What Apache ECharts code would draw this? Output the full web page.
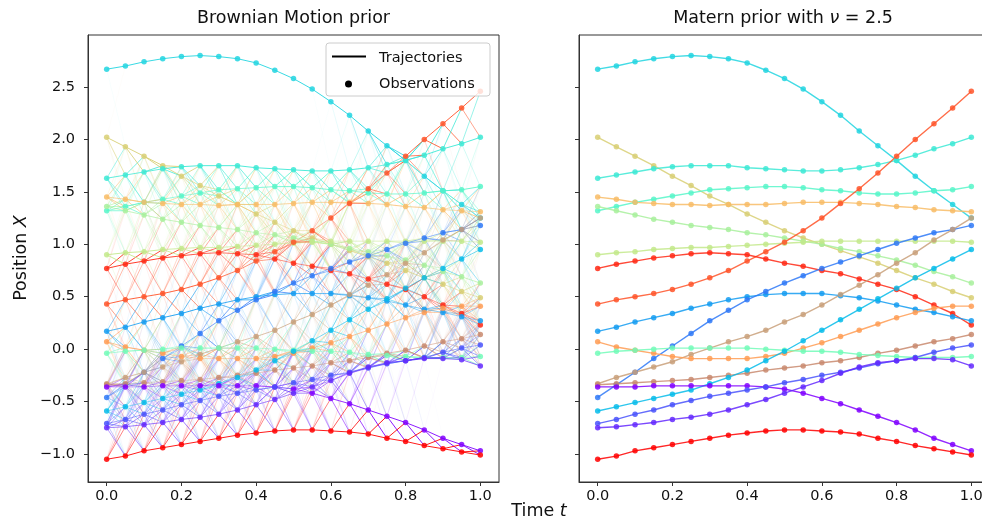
<!DOCTYPE html>
<html>
<head>
<meta charset="utf-8">
<script src="https://cdn.jsdelivr.net/npm/echarts@6/dist/echarts.min.js"></script>
<style>
  html, body { margin: 0; padding: 0; background: #fff; }
  #chart { width: 982px; height: 522px; }
</style>
</head>
<body>
<div id="chart"></div>
<script>
// Observation times
const times = [0.00, 0.05, 0.10, 0.15, 0.20, 0.25, 0.30, 0.35, 0.40, 0.45, 0.50,
               0.55, 0.60, 0.65, 0.70, 0.75, 0.80, 0.85, 0.90, 0.95, 1.00];

// Observed positions of each particle at the times above
const trajA = [2.67, 2.70, 2.74, 2.77, 2.79, 2.80, 2.79, 2.77, 2.73, 2.66, 2.58, 2.48, 2.36, 2.23, 2.08, 1.94, 1.80, 1.65, 1.51, 1.38, 1.25];
const trajB = [2.02, 1.93, 1.84, 1.75, 1.65, 1.56, 1.46, 1.38, 1.29, 1.21, 1.13, 1.06, 1.00, 0.94, 0.88, 0.82, 0.75, 0.68, 0.62, 0.55, 0.49];
const trajC = [1.63, 1.66, 1.69, 1.72, 1.74, 1.75, 1.75, 1.75, 1.73, 1.72, 1.71, 1.70, 1.70, 1.71, 1.73, 1.76, 1.80, 1.85, 1.91, 1.96, 2.02];
const trajD = [1.32, 1.36, 1.40, 1.43, 1.46, 1.49, 1.52, 1.53, 1.54, 1.55, 1.55, 1.54, 1.52, 1.51, 1.49, 1.48, 1.48, 1.49, 1.51, 1.52, 1.55];
const trajE = [1.45, 1.43, 1.40, 1.39, 1.38, 1.38, 1.37, 1.38, 1.38, 1.38, 1.39, 1.40, 1.40, 1.40, 1.39, 1.38, 1.36, 1.35, 1.33, 1.32, 1.31];
const trajF = [1.36, 1.32, 1.28, 1.24, 1.21, 1.18, 1.16, 1.14, 1.11, 1.09, 1.06, 1.03, 1.00, 0.96, 0.93, 0.89, 0.85, 0.80, 0.74, 0.69, 0.63];
const trajG = [0.90, 0.92, 0.93, 0.95, 0.96, 0.97, 0.97, 0.98, 0.99, 1.00, 1.01, 1.02, 1.03, 1.03, 1.03, 1.03, 1.03, 1.03, 1.03, 1.03, 1.02];
const trajH = [0.43, 0.47, 0.50, 0.53, 0.57, 0.62, 0.68, 0.75, 0.84, 0.93, 1.02, 1.13, 1.25, 1.39, 1.53, 1.68, 1.84, 2.00, 2.15, 2.30, 2.46];
const trajI = [0.77, 0.81, 0.84, 0.87, 0.89, 0.91, 0.92, 0.91, 0.90, 0.86, 0.82, 0.79, 0.75, 0.72, 0.67, 0.62, 0.57, 0.50, 0.42, 0.34, 0.23];
const trajJ = [0.17, 0.21, 0.26, 0.30, 0.34, 0.39, 0.43, 0.47, 0.50, 0.52, 0.53, 0.53, 0.53, 0.51, 0.49, 0.46, 0.42, 0.38, 0.35, 0.31, 0.27];
const trajK = [-0.46, -0.34, -0.22, -0.09, 0.03, 0.15, 0.27, 0.37, 0.47, 0.55, 0.63, 0.70, 0.77, 0.83, 0.89, 0.95, 1.01, 1.06, 1.11, 1.14, 1.18];
const trajL = [-0.33, -0.27, -0.22, -0.17, -0.12, -0.05, 0.01, 0.07, 0.12, 0.18, 0.26, 0.33, 0.42, 0.52, 0.61, 0.71, 0.82, 0.92, 1.04, 1.14, 1.25];
const trajM = [0.07, 0.02, -0.01, -0.04, -0.07, -0.09, -0.09, -0.09, -0.09, -0.07, -0.04, 0.01, 0.06, 0.12, 0.18, 0.24, 0.30, 0.35, 0.39, 0.41, 0.41];
const trajN = [-0.34, -0.33, -0.32, -0.31, -0.30, -0.29, -0.27, -0.25, -0.23, -0.20, -0.18, -0.16, -0.13, -0.11, -0.08, -0.04, -0.01, 0.03, 0.07, 0.10, 0.14];
const trajO = [-0.04, -0.02, -0.01, 0.00, 0.01, 0.01, 0.01, 0.01, 0.01, 0.00, -0.01, -0.02, -0.02, -0.03, -0.05, -0.06, -0.07, -0.08, -0.08, -0.08, -0.07];
const trajP = [-0.59, -0.55, -0.51, -0.47, -0.43, -0.39, -0.33, -0.27, -0.20, -0.11, -0.02, 0.08, 0.18, 0.28, 0.38, 0.48, 0.58, 0.68, 0.77, 0.86, 0.95];
const trajQ = [-0.36, -0.36, -0.36, -0.35, -0.35, -0.35, -0.35, -0.35, -0.35, -0.36, -0.38, -0.42, -0.47, -0.52, -0.58, -0.64, -0.70, -0.77, -0.85, -0.91, -0.97];
const trajR = [-0.71, -0.67, -0.62, -0.58, -0.53, -0.49, -0.45, -0.42, -0.39, -0.36, -0.32, -0.29, -0.25, -0.22, -0.18, -0.14, -0.11, -0.08, -0.03, 0.01, 0.04];
const trajS = [-0.75, -0.74, -0.72, -0.70, -0.67, -0.65, -0.62, -0.58, -0.53, -0.48, -0.42, -0.36, -0.30, -0.23, -0.17, -0.13, -0.11, -0.09, -0.09, -0.10, -0.16];
const trajT = [-1.05, -1.02, -0.97, -0.94, -0.91, -0.88, -0.85, -0.82, -0.80, -0.78, -0.77, -0.77, -0.78, -0.79, -0.81, -0.85, -0.88, -0.92, -0.95, -0.98, -1.01];

const trajectories = [trajA, trajB, trajC, trajD, trajE, trajF, trajG, trajH, trajI, trajJ,
                      trajK, trajL, trajM, trajN, trajO, trajP, trajQ, trajR, trajS, trajT];

// One rainbow colour per particle
const trajColors = ['#22d5e0', '#d8cf74', '#3ce9d5', '#57f6c9', '#f8bc66', '#a8f09c', '#c3e98b', '#ff5329', '#ff2915', '#149cf1',
                    '#2f79f7', '#c9a07a', '#ff9c53', '#c98a6e', '#72fbb8', '#07bcea', '#8000ff', '#4a53fb', '#6429fe', '#ff0000'];

// Tick labels
const xTicks = [0.0, 0.2, 0.4, 0.6, 0.8, 1.0];
const yTicks = [-1.0, -0.5, 0.0, 0.5, 1.0, 1.5, 2.0, 2.5];

// Entropic transport plan between the particles of two consecutive times (Brownian prior)
function transportPlan(a, b, eps) {
  const n = a.length;
  const K = a.map(x => b.map(y => Math.exp(-((x - y) * (x - y)) / eps)));
  let u = new Array(n).fill(1);
  let v = new Array(n).fill(1);
  for (let it = 0; it < 400; it++) {
    u = K.map(row => 1 / row.reduce((s, k, j) => s + k * v[j], 0));
    v = b.map((_, j) => 1 / K.reduce((s, row, i) => s + row[j] * u[i], 0));
  }
  return K.map((row, i) => row.map((k, j) => u[i] * k * v[j]));
}

const EPS = 0.12;
const links = [];
for (let k = 0; k + 1 < times.length; k++) {
  const a = trajectories.map(tr => tr[k]);
  const b = trajectories.map(tr => tr[k + 1]);
  const plan = transportPlan(a, b, EPS);
  plan.forEach((row, i) => row.forEach((w, j) => {
    if (w > 0.004) links.push([times[k], a[i], times[k + 1], b[j], w, i]);
  }));
}
// weakest links first so the strong ones sit on top
links.sort((p, q) => p[4] - q[4]);

const FONT = 'DejaVu Sans';
const TXT = '#111';

function fmt(v) {
  return (v < 0 ? '\u2212' : '') + Math.abs(v).toFixed(1);
}

function makeXAxis(gridIndex) {
  return {
    type: 'value', gridIndex, min: -0.05, max: 1.05,
    axisLine: { show: true, onZero: false, lineStyle: { color: '#333', width: 1 } },
    axisTick: { show: true, customValues: xTicks, length: 4, lineStyle: { color: '#333', width: 1 } },
    axisLabel: { show: true, customValues: xTicks, formatter: fmt, color: TXT, fontFamily: FONT, fontSize: 14.5, margin: 7 },
    splitLine: { show: false }
  };
}
function makeYAxis(gridIndex, labels) {
  return {
    type: 'value', gridIndex, min: -1.267, max: 2.996,
    axisLine: { show: true, onZero: false, lineStyle: { color: '#333', width: 1 } },
    axisTick: { show: true, customValues: yTicks, length: 4, lineStyle: { color: '#333', width: 1 } },
    axisLabel: { show: labels, customValues: yTicks, formatter: fmt, color: TXT, fontFamily: FONT, fontSize: 14.5, margin: 13 },
    splitLine: { show: false }
  };
}

const series = [];

// Left panel: weighted links between consecutive observations
series.push({
  type: 'custom', xAxisIndex: 0, yAxisIndex: 0, clip: true, silent: true,
  data: links,
  encode: { x: [0, 2], y: [1, 3] },
  renderItem: (params, api) => {
    const p1 = api.coord([api.value(0), api.value(1)]);
    const p2 = api.coord([api.value(2), api.value(3)]);
    return {
      type: 'line',
      shape: { x1: p1[0], y1: p1[1], x2: p2[0], y2: p2[1] },
      style: { stroke: trajColors[api.value(5)], lineWidth: 1, opacity: Math.min(0.9, 2.5 * api.value(4)) }
    };
  },
  z: 1
});

// Left panel: observations
trajectories.forEach((tr, i) => {
  series.push({
    type: 'scatter', xAxisIndex: 0, yAxisIndex: 0, symbol: 'circle', symbolSize: 5.5,
    data: times.map((t, k) => [t, tr[k]]),
    itemStyle: { color: trajColors[i], opacity: 0.85 }, z: 3, silent: true
  });
});

// Right panel: smooth Matern trajectories with observations
trajectories.forEach((tr, i) => {
  series.push({
    type: 'line', xAxisIndex: 1, yAxisIndex: 1, symbol: 'circle', symbolSize: 5.5, showSymbol: true,
    data: times.map((t, k) => [t, tr[k]]),
    lineStyle: { color: trajColors[i], width: 1.4, opacity: 0.85 },
    itemStyle: { color: trajColors[i], opacity: 0.85 }, z: 2, silent: true
  });
});

const chart = echarts.init(document.getElementById('chart'), null, { renderer: 'canvas' });
chart.setOption({
  animation: false,
  backgroundColor: '#fff',
  grid: [
    { left: 88, top: 35, width: 411, height: 447, outerBoundsMode: 'none', containLabel: false,
      show: true, borderColor: '#333', borderWidth: 1, backgroundColor: 'transparent' },
    { left: 579, top: 35, width: 411, height: 447, outerBoundsMode: 'none', containLabel: false,
      show: true, borderColor: '#333', borderWidth: 1, backgroundColor: 'transparent' }
  ],
  xAxis: [makeXAxis(0), makeXAxis(1)],
  yAxis: [makeYAxis(0, true), makeYAxis(1, false)],
  series,
  graphic: [
    { type: 'text', x: 293.5, y: 18, z: 10, style: { text: 'Brownian Motion prior', fill: TXT, font: '17.5px "DejaVu Sans"', align: 'center', verticalAlign: 'middle' } },
    { type: 'text', x: 783, y: 18, z: 10, style: {
        text: '{n|Matern prior with }{i|\u03bd}{n| = 2.5}', align: 'center', verticalAlign: 'middle',
        rich: {
          n: { fill: TXT, fontFamily: FONT, fontSize: 17.5 },
          i: { fill: TXT, fontFamily: FONT, fontSize: 17.5, fontStyle: 'italic' }
        } } },
    { type: 'text', x: 539, y: 511, z: 10, style: {
        text: '{n|Time }{i|t}', align: 'center', verticalAlign: 'middle',
        rich: {
          n: { fill: TXT, fontFamily: FONT, fontSize: 17.5 },
          i: { fill: TXT, fontFamily: FONT, fontSize: 17.5, fontStyle: 'italic' }
        } } },
    { type: 'text', x: 21, y: 258, rotation: Math.PI / 2, z: 10, style: {
        text: '{n|Position }{i|X}', align: 'center', verticalAlign: 'middle',
        rich: {
          n: { fill: TXT, fontFamily: FONT, fontSize: 17.5 },
          i: { fill: TXT, fontFamily: FONT, fontSize: 17.5, fontStyle: 'italic' }
        } } },
    // legend box
    { type: 'rect', z: 20, shape: { x: 326, y: 43, width: 164, height: 53, r: 3 },
      style: { fill: 'rgba(255,255,255,0.8)', stroke: '#cccccc', lineWidth: 1 } },
    { type: 'line', z: 21, shape: { x1: 332, y1: 56.5, x2: 366, y2: 56.5 }, style: { stroke: '#000', lineWidth: 2 } },
    { type: 'circle', z: 21, shape: { cx: 348.5, cy: 84, r: 3.5 }, style: { fill: '#000' } },
    { type: 'text', z: 21, x: 379, y: 58, style: { text: 'Trajectories', fill: TXT, font: '14.5px "DejaVu Sans"', verticalAlign: 'middle' } },
    { type: 'text', z: 21, x: 379, y: 84, style: { text: 'Observations', fill: TXT, font: '14.5px "DejaVu Sans"', verticalAlign: 'middle' } }
  ]
});
</script>
</body>
</html>
